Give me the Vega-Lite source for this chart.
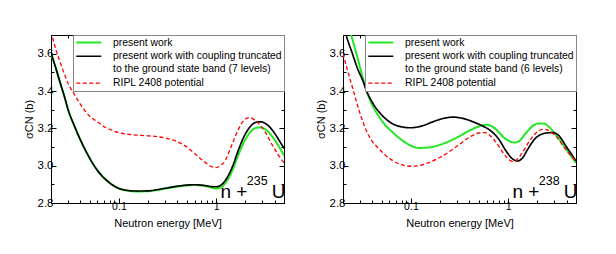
{
  "$schema": "https://vega.github.io/schema/vega-lite/v6.json",
  "background": "white",
  "padding": {"left": 22, "top": 34, "right": 4, "bottom": 4},
  "config": {
    "font": "Liberation Sans",
    "view": {"stroke": "black", "strokeWidth": 1},
    "axis": {"domainColor": "black", "tickColor": "black", "labelColor": "black", "titleColor": "black", "labelFont": "Liberation Sans", "titleFont": "Liberation Sans", "labelFontSize": 11, "titleFontSize": 11, "titleFontWeight": "normal", "grid": false, "tickWidth": 1, "domainWidth": 1},
    "axisX": {"labelFontSize": 10.5},
    "axisY": {"labelFontSize": 11.5},
    "legend": {"orient": "top-right", "offset": 0, "title": null, "symbolType": "M-3,0H3", "symbolSize": 69.4, "symbolStrokeWidth": 1.5, "symbolOffset": 8.3, "strokeColor": "#888888", "fillColor": "white", "padding": 2, "labelFont": "Liberation Sans", "labelFontSize": 10.4, "labelColor": "black", "labelLimit": 300, "rowPadding": 3, "labelOffset": 18.7}
  },
  "datasets": {
    "u235": [
      {"series": "pw", "E": 0.02, "s": 3.60}, {"series": "pw", "E": 0.0225, "s": 3.52}, {"series": "pw", "E": 0.025, "s": 3.44}, {"series": "pw", "E": 0.0275, "s": 3.37}, {"series": "pw", "E": 0.03, "s": 3.30}, {"series": "pw", "E": 0.035, "s": 3.21}, {"series": "pw", "E": 0.04, "s": 3.14}, {"series": "pw", "E": 0.045, "s": 3.085}, {"series": "pw", "E": 0.05, "s": 3.04}, {"series": "pw", "E": 0.06, "s": 2.975}, {"series": "pw", "E": 0.07, "s": 2.935}, {"series": "pw", "E": 0.08, "s": 2.908}, {"series": "pw", "E": 0.09, "s": 2.89}, {"series": "pw", "E": 0.1, "s": 2.878}, {"series": "pw", "E": 0.12, "s": 2.867}, {"series": "pw", "E": 0.15, "s": 2.862}, {"series": "pw", "E": 0.2, "s": 2.863}, {"series": "pw", "E": 0.25, "s": 2.87}, {"series": "pw", "E": 0.3, "s": 2.877}, {"series": "pw", "E": 0.4, "s": 2.888}, {"series": "pw", "E": 0.5, "s": 2.894}, {"series": "pw", "E": 0.6, "s": 2.896}, {"series": "pw", "E": 0.7, "s": 2.894}, {"series": "pw", "E": 0.8, "s": 2.889}, {"series": "pw", "E": 0.9, "s": 2.882}, {"series": "pw", "E": 1.0, "s": 2.878}, {"series": "pw", "E": 1.1, "s": 2.882}, {"series": "pw", "E": 1.2, "s": 2.897}, {"series": "pw", "E": 1.35, "s": 2.935}, {"series": "pw", "E": 1.5, "s": 2.985}, {"series": "pw", "E": 1.7, "s": 3.06}, {"series": "pw", "E": 2.0, "s": 3.14}, {"series": "pw", "E": 2.3, "s": 3.185}, {"series": "pw", "E": 2.6, "s": 3.203}, {"series": "pw", "E": 2.9, "s": 3.205}, {"series": "pw", "E": 3.3, "s": 3.19}, {"series": "pw", "E": 3.8, "s": 3.155}, {"series": "pw", "E": 4.4, "s": 3.105}, {"series": "pw", "E": 5.0, "s": 3.055},
      {"series": "ct", "E": 0.02, "s": 3.605}, {"series": "ct", "E": 0.0225, "s": 3.52}, {"series": "ct", "E": 0.025, "s": 3.44}, {"series": "ct", "E": 0.0275, "s": 3.37}, {"series": "ct", "E": 0.03, "s": 3.30}, {"series": "ct", "E": 0.035, "s": 3.21}, {"series": "ct", "E": 0.04, "s": 3.14}, {"series": "ct", "E": 0.045, "s": 3.085}, {"series": "ct", "E": 0.05, "s": 3.04}, {"series": "ct", "E": 0.06, "s": 2.975}, {"series": "ct", "E": 0.07, "s": 2.935}, {"series": "ct", "E": 0.08, "s": 2.908}, {"series": "ct", "E": 0.09, "s": 2.89}, {"series": "ct", "E": 0.1, "s": 2.878}, {"series": "ct", "E": 0.12, "s": 2.868}, {"series": "ct", "E": 0.15, "s": 2.864}, {"series": "ct", "E": 0.2, "s": 2.865}, {"series": "ct", "E": 0.25, "s": 2.872}, {"series": "ct", "E": 0.3, "s": 2.879}, {"series": "ct", "E": 0.4, "s": 2.89}, {"series": "ct", "E": 0.5, "s": 2.896}, {"series": "ct", "E": 0.6, "s": 2.898}, {"series": "ct", "E": 0.7, "s": 2.896}, {"series": "ct", "E": 0.8, "s": 2.892}, {"series": "ct", "E": 0.9, "s": 2.888}, {"series": "ct", "E": 1.0, "s": 2.887}, {"series": "ct", "E": 1.1, "s": 2.893}, {"series": "ct", "E": 1.2, "s": 2.91}, {"series": "ct", "E": 1.35, "s": 2.952}, {"series": "ct", "E": 1.5, "s": 3.005}, {"series": "ct", "E": 1.7, "s": 3.085}, {"series": "ct", "E": 2.0, "s": 3.17}, {"series": "ct", "E": 2.3, "s": 3.215}, {"series": "ct", "E": 2.6, "s": 3.233}, {"series": "ct", "E": 2.9, "s": 3.235}, {"series": "ct", "E": 3.3, "s": 3.222}, {"series": "ct", "E": 3.8, "s": 3.19}, {"series": "ct", "E": 4.4, "s": 3.14}, {"series": "ct", "E": 5.0, "s": 3.092},
      {"series": "ripl", "E": 0.02, "s": 3.72}, {"series": "ripl", "E": 0.0225, "s": 3.62}, {"series": "ripl", "E": 0.025, "s": 3.55}, {"series": "ripl", "E": 0.0275, "s": 3.49}, {"series": "ripl", "E": 0.03, "s": 3.44}, {"series": "ripl", "E": 0.035, "s": 3.38}, {"series": "ripl", "E": 0.04, "s": 3.33}, {"series": "ripl", "E": 0.05, "s": 3.265}, {"series": "ripl", "E": 0.06, "s": 3.235}, {"series": "ripl", "E": 0.07, "s": 3.21}, {"series": "ripl", "E": 0.08, "s": 3.195}, {"series": "ripl", "E": 0.1, "s": 3.177}, {"series": "ripl", "E": 0.13, "s": 3.167}, {"series": "ripl", "E": 0.17, "s": 3.162}, {"series": "ripl", "E": 0.2, "s": 3.16}, {"series": "ripl", "E": 0.25, "s": 3.155}, {"series": "ripl", "E": 0.3, "s": 3.148}, {"series": "ripl", "E": 0.35, "s": 3.14}, {"series": "ripl", "E": 0.4, "s": 3.128}, {"series": "ripl", "E": 0.5, "s": 3.1}, {"series": "ripl", "E": 0.6, "s": 3.065}, {"series": "ripl", "E": 0.7, "s": 3.035}, {"series": "ripl", "E": 0.8, "s": 3.012}, {"series": "ripl", "E": 0.9, "s": 2.995}, {"series": "ripl", "E": 1.0, "s": 2.99}, {"series": "ripl", "E": 1.1, "s": 2.998}, {"series": "ripl", "E": 1.25, "s": 3.03}, {"series": "ripl", "E": 1.4, "s": 3.09}, {"series": "ripl", "E": 1.6, "s": 3.165}, {"series": "ripl", "E": 1.8, "s": 3.22}, {"series": "ripl", "E": 2.0, "s": 3.25}, {"series": "ripl", "E": 2.2, "s": 3.258}, {"series": "ripl", "E": 2.5, "s": 3.245}, {"series": "ripl", "E": 2.8, "s": 3.22}, {"series": "ripl", "E": 3.2, "s": 3.18}, {"series": "ripl", "E": 3.8, "s": 3.11}, {"series": "ripl", "E": 4.4, "s": 3.055}, {"series": "ripl", "E": 5.0, "s": 3.015}
    ],
    "u238": [
      {"series": "pw", "E": 0.02, "s": 3.86}, {"series": "pw", "E": 0.022, "s": 3.78}, {"series": "pw", "E": 0.024, "s": 3.71}, {"series": "pw", "E": 0.026, "s": 3.645}, {"series": "pw", "E": 0.028, "s": 3.585}, {"series": "pw", "E": 0.032, "s": 3.47}, {"series": "pw", "E": 0.035, "s": 3.40}, {"series": "pw", "E": 0.04, "s": 3.325}, {"series": "pw", "E": 0.046, "s": 3.27}, {"series": "pw", "E": 0.055, "s": 3.215}, {"series": "pw", "E": 0.063, "s": 3.185}, {"series": "pw", "E": 0.075, "s": 3.15}, {"series": "pw", "E": 0.087, "s": 3.125}, {"series": "pw", "E": 0.1, "s": 3.107}, {"series": "pw", "E": 0.12, "s": 3.095}, {"series": "pw", "E": 0.15, "s": 3.097}, {"series": "pw", "E": 0.2, "s": 3.112}, {"series": "pw", "E": 0.25, "s": 3.132}, {"series": "pw", "E": 0.3, "s": 3.152}, {"series": "pw", "E": 0.4, "s": 3.188}, {"series": "pw", "E": 0.5, "s": 3.21}, {"series": "pw", "E": 0.6, "s": 3.219}, {"series": "pw", "E": 0.7, "s": 3.207}, {"series": "pw", "E": 0.8, "s": 3.18}, {"series": "pw", "E": 0.9, "s": 3.152}, {"series": "pw", "E": 1.0, "s": 3.135}, {"series": "pw", "E": 1.15, "s": 3.124}, {"series": "pw", "E": 1.3, "s": 3.132}, {"series": "pw", "E": 1.5, "s": 3.17}, {"series": "pw", "E": 1.75, "s": 3.208}, {"series": "pw", "E": 2.0, "s": 3.225}, {"series": "pw", "E": 2.3, "s": 3.226}, {"series": "pw", "E": 2.6, "s": 3.21}, {"series": "pw", "E": 3.0, "s": 3.175}, {"series": "pw", "E": 3.5, "s": 3.13}, {"series": "pw", "E": 4.2, "s": 3.07}, {"series": "pw", "E": 5.0, "s": 3.015},
      {"series": "ct", "E": 0.02, "s": 3.77}, {"series": "ct", "E": 0.0213, "s": 3.71}, {"series": "ct", "E": 0.025, "s": 3.6}, {"series": "ct", "E": 0.028, "s": 3.525}, {"series": "ct", "E": 0.032, "s": 3.455}, {"series": "ct", "E": 0.035, "s": 3.40}, {"series": "ct", "E": 0.04, "s": 3.34}, {"series": "ct", "E": 0.05, "s": 3.272}, {"series": "ct", "E": 0.063, "s": 3.228}, {"series": "ct", "E": 0.08, "s": 3.208}, {"series": "ct", "E": 0.1, "s": 3.203}, {"series": "ct", "E": 0.13, "s": 3.213}, {"series": "ct", "E": 0.17, "s": 3.236}, {"series": "ct", "E": 0.22, "s": 3.254}, {"series": "ct", "E": 0.27, "s": 3.26}, {"series": "ct", "E": 0.35, "s": 3.252}, {"series": "ct", "E": 0.45, "s": 3.232}, {"series": "ct", "E": 0.55, "s": 3.212}, {"series": "ct", "E": 0.65, "s": 3.19}, {"series": "ct", "E": 0.8, "s": 3.143}, {"series": "ct", "E": 0.95, "s": 3.08}, {"series": "ct", "E": 1.1, "s": 3.038}, {"series": "ct", "E": 1.25, "s": 3.025}, {"series": "ct", "E": 1.4, "s": 3.04}, {"series": "ct", "E": 1.6, "s": 3.09}, {"series": "ct", "E": 1.9, "s": 3.145}, {"series": "ct", "E": 2.2, "s": 3.168}, {"series": "ct", "E": 2.6, "s": 3.176}, {"series": "ct", "E": 2.9, "s": 3.177}, {"series": "ct", "E": 3.3, "s": 3.163}, {"series": "ct", "E": 4.0, "s": 3.1}, {"series": "ct", "E": 5.0, "s": 3.025},
      {"series": "ripl", "E": 0.02, "s": 3.60}, {"series": "ripl", "E": 0.022, "s": 3.52}, {"series": "ripl", "E": 0.025, "s": 3.42}, {"series": "ripl", "E": 0.028, "s": 3.33}, {"series": "ripl", "E": 0.032, "s": 3.235}, {"series": "ripl", "E": 0.036, "s": 3.17}, {"series": "ripl", "E": 0.04, "s": 3.13}, {"series": "ripl", "E": 0.046, "s": 3.095}, {"series": "ripl", "E": 0.055, "s": 3.055}, {"series": "ripl", "E": 0.065, "s": 3.027}, {"series": "ripl", "E": 0.08, "s": 3.005}, {"series": "ripl", "E": 0.1, "s": 2.997}, {"series": "ripl", "E": 0.12, "s": 3.0}, {"series": "ripl", "E": 0.15, "s": 3.015}, {"series": "ripl", "E": 0.2, "s": 3.045}, {"series": "ripl", "E": 0.3, "s": 3.105}, {"series": "ripl", "E": 0.4, "s": 3.152}, {"series": "ripl", "E": 0.5, "s": 3.175}, {"series": "ripl", "E": 0.58, "s": 3.177}, {"series": "ripl", "E": 0.7, "s": 3.145}, {"series": "ripl", "E": 0.8, "s": 3.105}, {"series": "ripl", "E": 0.9, "s": 3.065}, {"series": "ripl", "E": 1.0, "s": 3.037}, {"series": "ripl", "E": 1.1, "s": 3.023}, {"series": "ripl", "E": 1.2, "s": 3.027}, {"series": "ripl", "E": 1.4, "s": 3.07}, {"series": "ripl", "E": 1.7, "s": 3.14}, {"series": "ripl", "E": 2.0, "s": 3.182}, {"series": "ripl", "E": 2.3, "s": 3.195}, {"series": "ripl", "E": 2.7, "s": 3.185}, {"series": "ripl", "E": 3.2, "s": 3.15}, {"series": "ripl", "E": 4.0, "s": 3.08}, {"series": "ripl", "E": 5.0, "s": 3.025}
    ],
    "tag235": [{"E": 1.11, "s": 2.827, "t": "n +"}, {"E": 3.75, "s": 2.827, "t": "U"}],
    "sup235": [{"E": 2.07, "s": 2.895, "t": "235"}],
    "tag238": [{"E": 1.11, "s": 2.827, "t": "n +"}, {"E": 3.75, "s": 2.827, "t": "U"}],
    "sup238": [{"E": 2.07, "s": 2.895, "t": "238"}]
  },
  "spacing": 27,
  "resolve": {"scale": {"color": "independent", "strokeDash": "independent", "strokeWidth": "independent"}, "legend": {"color": "independent", "strokeDash": "independent"}},
  "hconcat": [
    {
      "width": 233, "height": 168,
      "resolve": {"axis": {"x": "independent", "y": "independent"}},
      "layer": [
        {
          "data": {"name": "u235"},
          "mark": {"type": "line", "clip": true, "interpolate": "monotone"},
          "encoding": {
            "x": {"field": "E", "type": "quantitative", "scale": {"type": "log", "domain": [0.02, 5], "nice": false},
              "axis": {"orient": "bottom", "values": [0.03, 0.04, 0.05, 0.06, 0.07, 0.08, 0.09, 0.1, 0.2, 0.3, 0.4, 0.5, 0.6, 0.7, 0.8, 0.9, 1, 2, 3, 4], "labelExpr": "datum.value == 0.1 ? '0.1' : (datum.value == 1 ? '1' : '')", "tickSize": {"condition": {"test": "datum.value == 0.1 || datum.value == 1", "value": -5}, "value": -3}, "labelPadding": 3, "labelOverlap": false, "labelFlush": false, "title": "Neutron energy [MeV]", "titlePadding": 4}},
            "y": {"field": "s", "type": "quantitative", "scale": {"domain": [2.8, 3.7], "nice": false, "zero": false},
              "axis": {"orient": "left", "values": [2.8, 2.9, 3.0, 3.1, 3.2, 3.3, 3.4, 3.5, 3.6], "labelExpr": "indexof(['2.8','3.0','3.2','3.4','3.6'], format(datum.value, '.1f')) >= 0 ? format(datum.value, '.1f') : ''", "tickSize": {"condition": {"test": "indexof(['2.8','3.0','3.2','3.4','3.6'], format(datum.value, '.1f')) >= 0", "value": -5}, "value": -3}, "labelPadding": 3, "labelOverlap": false, "labelFlush": false, "title": "σCN (b)", "titlePadding": 3}},
            "color": {"field": "series", "type": "nominal", "scale": {"domain": ["pw", "ct", "ripl"], "range": ["#22e622", "#000000", "#ff0000"]},
              "legend": {"labelExpr": "datum.label == 'pw' ? 'present work' : (datum.label == 'ct' ? ['present work with coupling truncated', 'to the ground state band (7 levels)'] : 'RIPL 2408 potential')",
                "encode": {"labels": {"update": {"lineHeight": {"value": 12.5}}}, "symbols": {"update": {"strokeWidth": {"signal": "datum.value == 'pw' ? 2.2 : 1.4"}}}}}},
            "strokeDash": {"field": "series", "type": "nominal", "scale": {"domain": ["pw", "ct", "ripl"], "range": [[1, 0], [1, 0], [4, 2.5]]}},
            "strokeWidth": {"field": "series", "type": "nominal", "scale": {"domain": ["pw", "ct", "ripl"], "range": [2, 1.3, 1.2]}, "legend": null}
          }
        },
        {
          "data": {"name": "u235"},
          "mark": {"type": "point", "opacity": 0, "clip": true},
          "encoding": {
            "x": {"field": "E", "type": "quantitative", "axis": {"orient": "top", "values": [0.03, 0.04, 0.05, 0.06, 0.07, 0.08, 0.09, 0.1, 0.2, 0.3, 0.4, 0.5, 0.6, 0.7, 0.8, 0.9, 1, 2, 3, 4], "labels": false, "title": null, "tickSize": {"condition": {"test": "datum.value == 0.1 || datum.value == 1", "value": -5}, "value": -3}}},
            "y": {"field": "s", "type": "quantitative", "axis": {"orient": "right", "values": [2.8, 2.9, 3.0, 3.1, 3.2, 3.3, 3.4, 3.5, 3.6], "labels": false, "title": null, "tickSize": {"condition": {"test": "indexof(['2.8','3.0','3.2','3.4','3.6'], format(datum.value, '.1f')) >= 0", "value": -5}, "value": -3}}}
          }
        },
        {
          "data": {"name": "tag235"},
          "mark": {"type": "text", "fontSize": 19, "align": "left", "baseline": "alphabetic", "font": "Liberation Sans", "color": "black"},
          "encoding": {"x": {"field": "E", "type": "quantitative", "axis": null}, "y": {"field": "s", "type": "quantitative", "axis": null}, "text": {"field": "t"}}
        },
        {
          "data": {"name": "sup235"},
          "mark": {"type": "text", "fontSize": 12.5, "align": "left", "baseline": "alphabetic", "font": "Liberation Sans", "color": "black"},
          "encoding": {"x": {"field": "E", "type": "quantitative", "axis": null}, "y": {"field": "s", "type": "quantitative", "axis": null}, "text": {"field": "t"}}
        }
      ]
    },
    {
      "width": 233, "height": 168,
      "resolve": {"axis": {"x": "independent", "y": "independent"}},
      "layer": [
        {
          "data": {"name": "u238"},
          "mark": {"type": "line", "clip": true, "interpolate": "monotone"},
          "encoding": {
            "x": {"field": "E", "type": "quantitative", "scale": {"type": "log", "domain": [0.02, 5], "nice": false},
              "axis": {"orient": "bottom", "values": [0.03, 0.04, 0.05, 0.06, 0.07, 0.08, 0.09, 0.1, 0.2, 0.3, 0.4, 0.5, 0.6, 0.7, 0.8, 0.9, 1, 2, 3, 4], "labelExpr": "datum.value == 0.1 ? '0.1' : (datum.value == 1 ? '1' : '')", "tickSize": {"condition": {"test": "datum.value == 0.1 || datum.value == 1", "value": -5}, "value": -3}, "labelPadding": 3, "labelOverlap": false, "labelFlush": false, "title": "Neutron energy [MeV]", "titlePadding": 4}},
            "y": {"field": "s", "type": "quantitative", "scale": {"domain": [2.8, 3.7], "nice": false, "zero": false},
              "axis": {"orient": "left", "values": [2.8, 2.9, 3.0, 3.1, 3.2, 3.3, 3.4, 3.5, 3.6], "labelExpr": "indexof(['2.8','3.0','3.2','3.4','3.6'], format(datum.value, '.1f')) >= 0 ? format(datum.value, '.1f') : ''", "tickSize": {"condition": {"test": "indexof(['2.8','3.0','3.2','3.4','3.6'], format(datum.value, '.1f')) >= 0", "value": -5}, "value": -3}, "labelPadding": 3, "labelOverlap": false, "labelFlush": false, "title": "σCN (b)", "titlePadding": 3}},
            "color": {"field": "series", "type": "nominal", "scale": {"domain": ["pw", "ct", "ripl"], "range": ["#22e622", "#000000", "#ff0000"]},
              "legend": {"labelExpr": "datum.label == 'pw' ? 'present work' : (datum.label == 'ct' ? ['present work with coupling truncated', 'to the ground state band (6 levels)'] : 'RIPL 2408 potential')",
                "encode": {"labels": {"update": {"lineHeight": {"value": 12.5}}}, "symbols": {"update": {"strokeWidth": {"signal": "datum.value == 'pw' ? 2.2 : 1.4"}}}}}},
            "strokeDash": {"field": "series", "type": "nominal", "scale": {"domain": ["pw", "ct", "ripl"], "range": [[1, 0], [1, 0], [4, 2.5]]}},
            "strokeWidth": {"field": "series", "type": "nominal", "scale": {"domain": ["pw", "ct", "ripl"], "range": [2, 1.3, 1.2]}, "legend": null}
          }
        },
        {
          "data": {"name": "u238"},
          "mark": {"type": "point", "opacity": 0, "clip": true},
          "encoding": {
            "x": {"field": "E", "type": "quantitative", "axis": {"orient": "top", "values": [0.03, 0.04, 0.05, 0.06, 0.07, 0.08, 0.09, 0.1, 0.2, 0.3, 0.4, 0.5, 0.6, 0.7, 0.8, 0.9, 1, 2, 3, 4], "labels": false, "title": null, "tickSize": {"condition": {"test": "datum.value == 0.1 || datum.value == 1", "value": -5}, "value": -3}}},
            "y": {"field": "s", "type": "quantitative", "axis": {"orient": "right", "values": [2.8, 2.9, 3.0, 3.1, 3.2, 3.3, 3.4, 3.5, 3.6], "labels": false, "title": null, "tickSize": {"condition": {"test": "indexof(['2.8','3.0','3.2','3.4','3.6'], format(datum.value, '.1f')) >= 0", "value": -5}, "value": -3}}}
          }
        },
        {
          "data": {"name": "tag238"},
          "mark": {"type": "text", "fontSize": 19, "align": "left", "baseline": "alphabetic", "font": "Liberation Sans", "color": "black"},
          "encoding": {"x": {"field": "E", "type": "quantitative", "axis": null}, "y": {"field": "s", "type": "quantitative", "axis": null}, "text": {"field": "t"}}
        },
        {
          "data": {"name": "sup238"},
          "mark": {"type": "text", "fontSize": 12.5, "align": "left", "baseline": "alphabetic", "font": "Liberation Sans", "color": "black"},
          "encoding": {"x": {"field": "E", "type": "quantitative", "axis": null}, "y": {"field": "s", "type": "quantitative", "axis": null}, "text": {"field": "t"}}
        }
      ]
    }
  ]
}
